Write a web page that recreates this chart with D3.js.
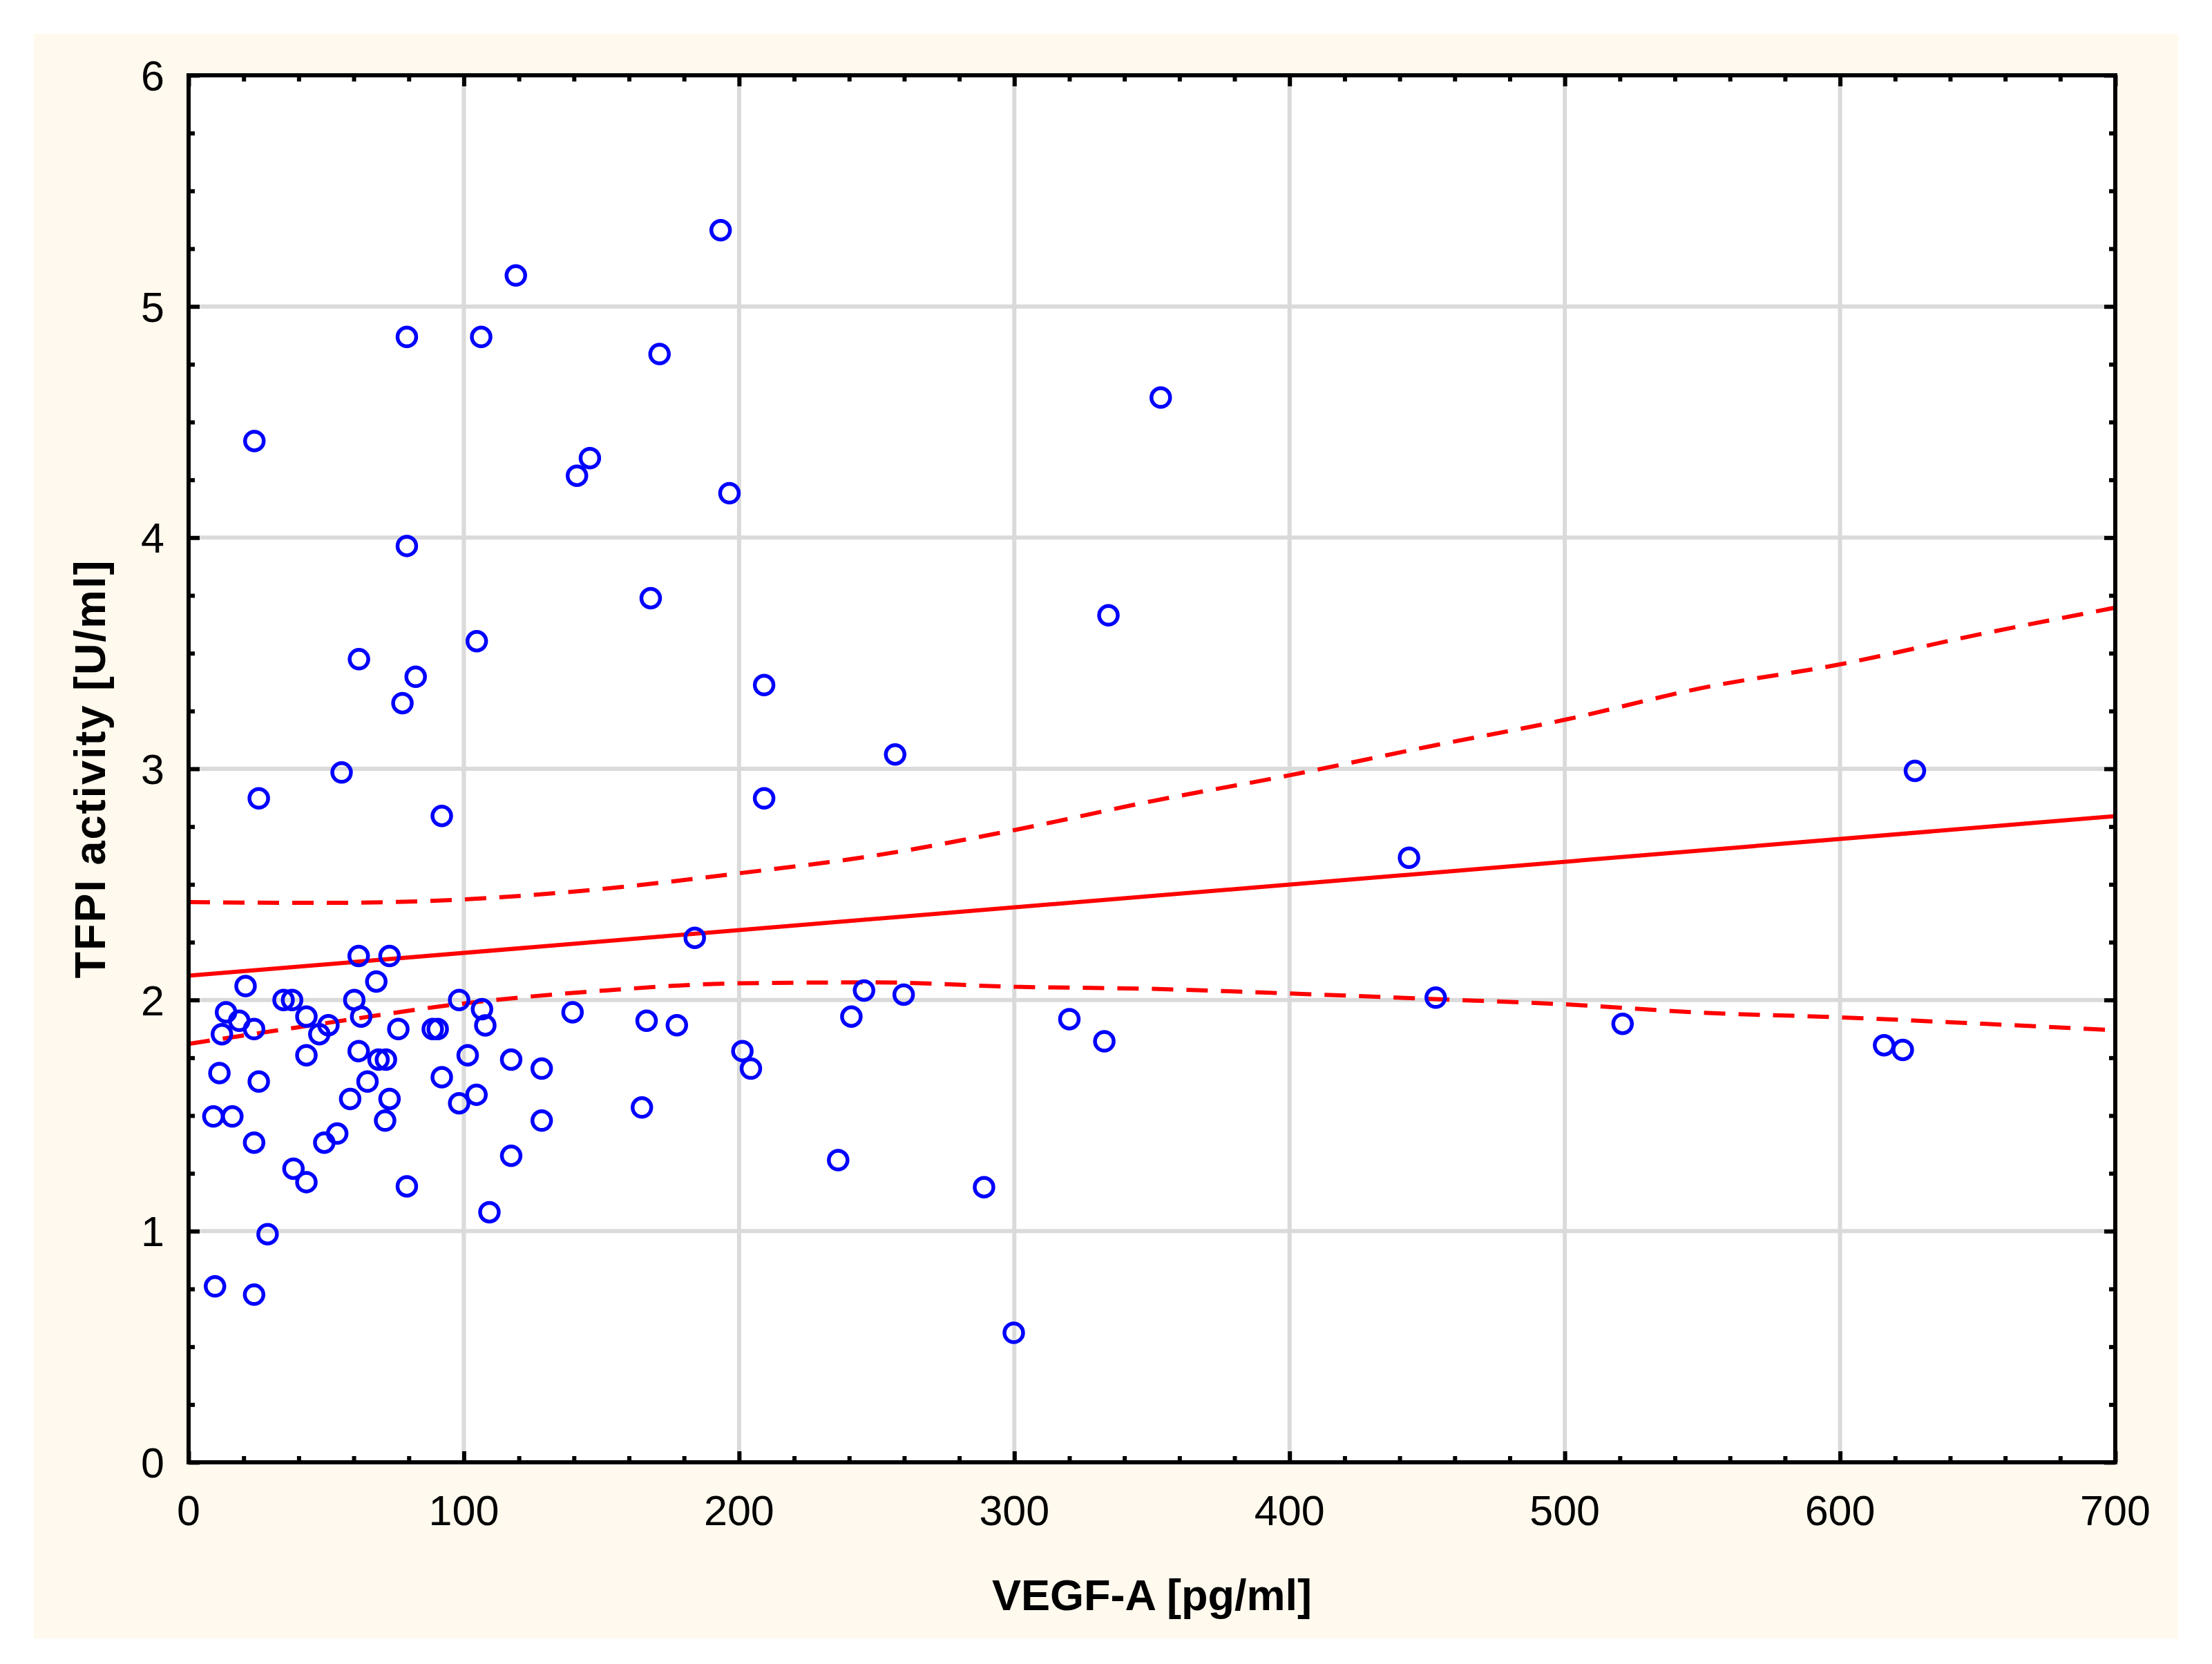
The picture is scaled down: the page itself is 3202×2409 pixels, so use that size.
<!DOCTYPE html>
<html>
<head>
<meta charset="utf-8">
<script src="https://cdn.jsdelivr.net/npm/d3@7"></script>
<style>
  html, body { margin: 0; padding: 0; background: #ffffff; }
  svg { display: block; }
  text { font-family: "Liberation Sans", Arial, Helvetica, sans-serif; }
</style>
</head>
<body>
<svg id="chart" width="3202" height="2409"></svg>
<script>
// ---- data ----
const vegfA = [193.3,118.9,79.3,106.3,171.1,353.2,23.9,145.8,141.1,196.5,79.3,167.9,334.2,104.7,61.9,82.5,209.1,77.7,256.7,55.6,627.2,25.5,209.1,92.0,443.4,183.9,61.8,73.0,20.7,68.2,245.4,259.8,34.5,37.6,60.2,98.3,453.1,13.6,18.4,23.8,12.1,42.8,50.8,47.5,62.7,76.2,88.7,90.5,106.6,107.8,139.5,166.4,177.4,240.8,320.0,521.0,332.7,616.0,622.8,201.2,204.3,42.8,61.8,69.0,71.7,101.4,117.2,128.3,11.2,25.5,65.0,92.0,58.7,73.0,98.3,104.6,164.7,9.0,15.9,71.4,128.3,23.8,49.3,54.0,117.2,236.0,38.1,42.8,79.3,289.0,109.3,28.7,9.6,23.8,299.8];
const tfpiActivity = [5.33,5.134,4.868,4.868,4.794,4.606,4.418,4.344,4.268,4.192,3.964,3.738,3.664,3.552,3.474,3.398,3.362,3.284,3.062,2.984,2.991,2.872,2.872,2.796,2.615,2.269,2.19,2.19,2.06,2.08,2.041,2.023,2.0,2.0,2.0,2.0,2.01,1.947,1.91,1.874,1.852,1.928,1.891,1.852,1.928,1.874,1.874,1.874,1.96,1.89,1.947,1.91,1.891,1.928,1.917,1.897,1.821,1.804,1.784,1.779,1.703,1.761,1.779,1.742,1.742,1.761,1.742,1.703,1.684,1.647,1.647,1.666,1.572,1.572,1.553,1.59,1.535,1.496,1.496,1.478,1.478,1.383,1.383,1.422,1.326,1.307,1.27,1.212,1.194,1.19,1.082,0.987,0.761,0.725,0.56];

// regression line (end points) and confidence band samples
const fitX = [0, 700];
const fitY = [2.105, 2.795];
const bandX = [0, 50, 100, 150, 200, 250, 300, 350, 400, 450, 500, 550, 600, 650, 700];
const bandUpper = [2.423, 2.42, 2.435, 2.48, 2.548, 2.626, 2.735, 2.86, 2.972, 3.095, 3.212, 3.35, 3.452, 3.58, 3.697];
const bandLower = [1.81, 1.90, 1.985, 2.04, 2.072, 2.076, 2.057, 2.048, 2.028, 2.005, 1.981, 1.945, 1.925, 1.898, 1.869];

const xTicks = [0, 100, 200, 300, 400, 500, 600, 700];
const yTicks = [0, 1, 2, 3, 4, 5, 6];
const xMinorStep = 20;
const yMinorStep = 0.25;
const xTitle = "VEGF-A [pg/ml]";
const yTitle = "TFPI activity [U/ml]";

// ---- layout ----
const svg = d3.select("#chart");
const L = 273, R = 3062, T = 109, B = 2117;

svg.append("rect").attr("x", 0).attr("y", 0).attr("width", 3202).attr("height", 2409).attr("fill", "#ffffff");
svg.append("rect").attr("x", 49).attr("y", 49).attr("width", 3104).attr("height", 2323).attr("fill", "#fff9ee");
svg.append("rect").attr("x", L).attr("y", T).attr("width", R - L).attr("height", B - T).attr("fill", "#ffffff");

const x = d3.scaleLinear().domain([0, 700]).range([L, R]);
const y = d3.scaleLinear().domain([0, 6]).range([B, T]);

// gridlines
const grid = svg.append("g");
grid.selectAll("line.gx").data(xTicks.slice(1, -1)).join("line")
  .attr("x1", d => x(d)).attr("x2", d => x(d)).attr("y1", T).attr("y2", B)
  .attr("stroke", "#dadada").attr("stroke-width", 6);
grid.selectAll("line.gy").data(yTicks.slice(1, -1)).join("line")
  .attr("y1", d => y(d)).attr("y2", d => y(d)).attr("x1", L).attr("x2", R)
  .attr("stroke", "#dadada").attr("stroke-width", 6);

// minor ticks values
const xMinor = d3.range(0, 700 + 0.001, xMinorStep).filter(v => Math.abs(v % 100) > 0.001);
const yMinor = d3.range(0, 6 + 0.001, yMinorStep).filter(v => Math.abs(v - Math.round(v)) > 0.001);

// axes with inward ticks on all four sides
const axB = d3.axisBottom(x).tickValues(xTicks).tickSize(-16).tickFormat("");
const axT = d3.axisTop(x).tickValues(xTicks).tickSize(-16).tickFormat("");
const axL = d3.axisLeft(y).tickValues(yTicks).tickSize(-16).tickFormat("");
const axR = d3.axisRight(y).tickValues(yTicks).tickSize(-16).tickFormat("");
const axBm = d3.axisBottom(x).tickValues(xMinor).tickSize(-9).tickFormat("");
const axTm = d3.axisTop(x).tickValues(xMinor).tickSize(-9).tickFormat("");
const axLm = d3.axisLeft(y).tickValues(yMinor).tickSize(-9).tickFormat("");
const axRm = d3.axisRight(y).tickValues(yMinor).tickSize(-9).tickFormat("");

function styleAxis(g) {
  g.select(".domain").remove();
  g.selectAll(".tick line").attr("stroke", "#000").attr("stroke-width", 6);
}
[[axB, `translate(0,${B})`], [axT, `translate(0,${T})`], [axL, `translate(${L},0)`], [axR, `translate(${R},0)`],
 [axBm, `translate(0,${B})`], [axTm, `translate(0,${T})`], [axLm, `translate(${L},0)`], [axRm, `translate(${R},0)`]]
  .forEach(([ax, tr]) => svg.append("g").attr("transform", tr).call(ax).call(styleAxis));

// regression line and confidence band
const lineGen = d3.line().x(d => x(d[0])).y(d => y(d[1]));
const curveGen = d3.line().x(d => x(d[0])).y(d => y(d[1])).curve(d3.curveMonotoneX);

svg.append("path").datum(bandX.map((v, i) => [v, bandUpper[i]]))
  .attr("d", curveGen).attr("fill", "none").attr("stroke", "#ff0000")
  .attr("stroke-width", 6).attr("stroke-dasharray", "31,19");
svg.append("path").datum(bandX.map((v, i) => [v, bandLower[i]]))
  .attr("d", curveGen).attr("fill", "none").attr("stroke", "#ff0000")
  .attr("stroke-width", 6).attr("stroke-dasharray", "31,19");
svg.append("path").datum(fitX.map((v, i) => [v, fitY[i]]))
  .attr("d", lineGen).attr("fill", "none").attr("stroke", "#ff0000").attr("stroke-width", 6);

// points
svg.append("g").selectAll("circle").data(vegfA.map((v, i) => [v, tfpiActivity[i]])).join("circle")
  .attr("cx", d => x(d[0])).attr("cy", d => y(d[1])).attr("r", 13.5)
  .attr("fill", "none").attr("stroke", "#0000ff").attr("stroke-width", 5.5);

// frame
svg.append("rect").attr("x", L).attr("y", T).attr("width", R - L).attr("height", B - T)
  .attr("fill", "none").attr("stroke", "#000").attr("stroke-width", 6);

// tick labels
svg.append("g").selectAll("text").data(xTicks).join("text")
  .attr("x", d => x(d)).attr("y", 2208).attr("text-anchor", "middle")
  .attr("font-size", 61).attr("fill", "#000").text(d => d);
svg.append("g").selectAll("text").data(yTicks).join("text")
  .attr("x", 238).attr("y", d => y(d) + 22).attr("text-anchor", "end")
  .attr("font-size", 61).attr("fill", "#000").text(d => d);

// titles
svg.append("text").attr("x", (L + R) / 2).attr("y", 2331).attr("text-anchor", "middle")
  .attr("font-size", 63).attr("font-weight", "bold").attr("fill", "#000").text(xTitle);
svg.append("text").attr("transform", `translate(152,${(T + B) / 2}) rotate(-90)`)
  .attr("text-anchor", "middle").attr("font-size", 63).attr("font-weight", "bold")
  .attr("letter-spacing", 2).attr("fill", "#000").text(yTitle);
</script>
</body>
</html>
